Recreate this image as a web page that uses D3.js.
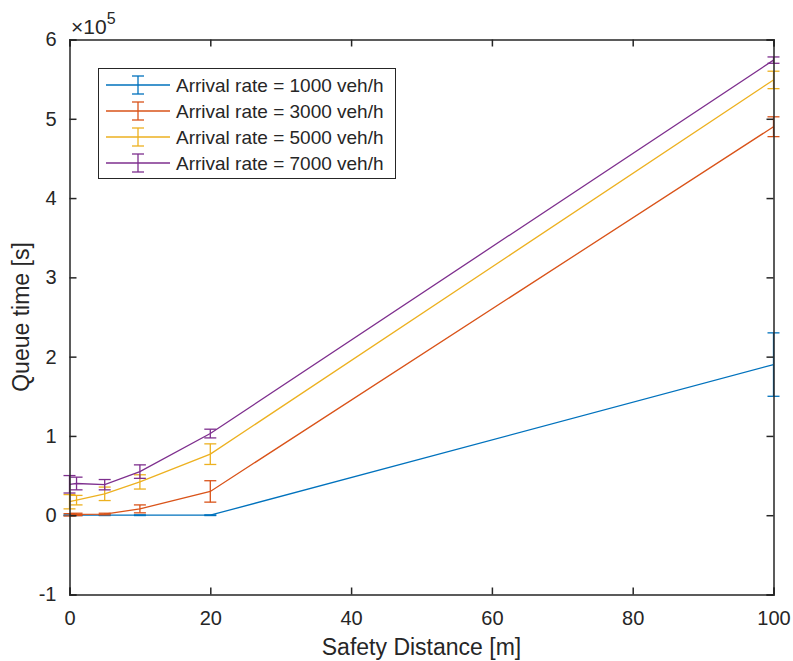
<!DOCTYPE html>
<html><head><meta charset="utf-8">
<script src="https://cdn.jsdelivr.net/npm/d3@7"></script>
<style>
body{margin:0;background:#fff;}
text{font-family:"Liberation Sans",Arial,sans-serif;fill:#262626;}
</style></head>
<body>
<svg id="chart" width="793" height="661"></svg>
<script>
const distances = [0, 1, 5, 10, 20, 100];
const seriesNames = ["Arrival rate = 1000 veh/h","Arrival rate = 3000 veh/h","Arrival rate = 5000 veh/h","Arrival rate = 7000 veh/h"];
const rate1000 = [0, 0, 0, 0, 0, 190000];
const rate1000Err = [400, 400, 400, 400, 400, 40000];
const rate3000 = [500, 1000, 1500, 8000, 30000, 490000];
const rate3000Err = [1500, 1500, 1000, 5000, 13500, 12500];
const rate5000 = [17000, 19000, 27000, 42000, 77000, 549000];
const rate5000Err = [9000, 6000, 8500, 9000, 13000, 11000];
const rate7000 = [39000, 40000, 38500, 55000, 103000, 574000];
const rate7000Err = [11000, 8000, 6500, 8500, 5500, 4000];
const colors = ["#0072BD","#D95319","#EDB120","#7E2F8E"];
const xTicks = [0, 20, 40, 60, 80, 100];
const yTicks = [-1, 0, 1, 2, 3, 4, 5, 6];
const yScaleFactor = 1e5;

const series = [
  {name: seriesNames[0], y: rate1000, e: rate1000Err, c: colors[0]},
  {name: seriesNames[1], y: rate3000, e: rate3000Err, c: colors[1]},
  {name: seriesNames[2], y: rate5000, e: rate5000Err, c: colors[2]},
  {name: seriesNames[3], y: rate7000, e: rate7000Err, c: colors[3]}
];

const L = 69.5, R = 773.5, T = 39.5, B = 594.5;
const svg = d3.select("#chart");
const x = d3.scaleLinear().domain([0, 100]).range([L, R]);
const y = d3.scaleLinear().domain([-1e5, 6e5]).range([B, T]);
const axisColor = "#262626";
const tickLen = 7;
const fs = 20;

// data
const line = d3.line().x((d,i)=>x(distances[i])).y(d=>y(d));
const cap = 6;
series.forEach(s => {
  const g = svg.append("g");
  g.append("path").attr("d", line(s.y)).attr("fill","none").attr("stroke", s.c).attr("stroke-width",1.3);
  distances.forEach((dx,i) => {
    const cx = x(dx), y1 = y(s.y[i] - s.e[i]), y2 = y(s.y[i] + s.e[i]);
    g.append("line").attr("x1",cx).attr("x2",cx).attr("y1",y1).attr("y2",y2).attr("stroke",s.c).attr("stroke-width",1.3);
    g.append("line").attr("x1",cx-cap).attr("x2",cx+cap).attr("y1",y1).attr("y2",y1).attr("stroke",s.c).attr("stroke-width",1.3);
    g.append("line").attr("x1",cx-cap).attr("x2",cx+cap).attr("y1",y2).attr("y2",y2).attr("stroke",s.c).attr("stroke-width",1.3);
  });
});

// axes
const fmt = v => String(Math.round(v));
const xb = svg.append("g").attr("transform",`translate(0,${B})`)
  .call(d3.axisBottom(x).tickValues(xTicks).tickSize(-tickLen).tickPadding(tickLen+9).tickFormat(fmt));
const xt = svg.append("g").attr("transform",`translate(0,${T})`)
  .call(d3.axisTop(x).tickValues(xTicks).tickSize(-tickLen).tickFormat(""));
const yl = svg.append("g").attr("transform",`translate(${L},0)`)
  .call(d3.axisLeft(y).tickValues(yTicks.map(v=>v*yScaleFactor)).tickSize(-tickLen).tickPadding(tickLen+6).tickFormat(d=>fmt(d/yScaleFactor)));
const yr = svg.append("g").attr("transform",`translate(${R},0)`)
  .call(d3.axisRight(y).tickValues(yTicks.map(v=>v*yScaleFactor)).tickSize(-tickLen).tickFormat(""));
[xb,xt,yl,yr].forEach(g=>{
  g.select(".domain").attr("stroke",axisColor).attr("stroke-width",1.5);
  g.selectAll(".tick line").attr("stroke",axisColor).attr("stroke-width",1.5);
  g.selectAll(".tick text").attr("font-size",fs).attr("font-family","Liberation Sans, Arial, sans-serif").attr("fill",axisColor);
});

// exponent
const ex = svg.append("text").attr("x",71).attr("y",34).attr("font-size",21);
ex.append("tspan").text("×10");
ex.append("tspan").attr("font-size",16).attr("dy",-10).text("5");

// labels
svg.append("text").attr("x",(L+R)/2).attr("y",655).attr("text-anchor","middle").attr("font-size",23).text("Safety Distance [m]");
svg.append("text").attr("transform",`translate(29,${(T+B)/2}) rotate(-90)`).attr("text-anchor","middle").attr("font-size",23).text("Queue time [s]");

// legend
const lg = svg.append("g");
lg.append("rect").attr("x",98.5).attr("y",68.5).attr("width",297).attr("height",110).attr("fill","#fff").attr("stroke",axisColor).attr("stroke-width",1);
series.forEach((s,i)=>{
  const cy = 85 + i*26;
  lg.append("line").attr("x1",106).attr("x2",170).attr("y1",cy).attr("y2",cy).attr("stroke",s.c).attr("stroke-width",1.3);
  lg.append("line").attr("x1",138).attr("x2",138).attr("y1",cy-9).attr("y2",cy+9).attr("stroke",s.c).attr("stroke-width",1.3);
  lg.append("line").attr("x1",132).attr("x2",144).attr("y1",cy-9).attr("y2",cy-9).attr("stroke",s.c).attr("stroke-width",1.3);
  lg.append("line").attr("x1",132).attr("x2",144).attr("y1",cy+9).attr("y2",cy+9).attr("stroke",s.c).attr("stroke-width",1.3);
  lg.append("text").attr("x",176).attr("y",cy+7).attr("font-size",19).text(s.name);
});
</script>
</body></html>
